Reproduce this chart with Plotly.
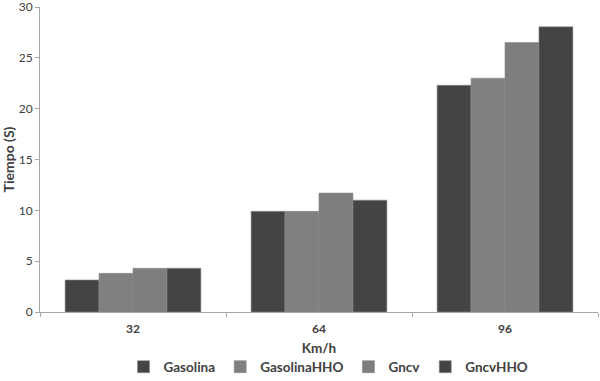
import plotly.graph_objects as go

categories = ["32", "64", "96"]
series_names = ["Gasolina", "GasolinaHHO", "Gncv", "GncvHHO"]
gasolina = [3.15, 9.9, 22.3]
gasolina_hho = [3.8, 9.9, 23.0]
gncv = [4.3, 11.7, 26.5]
gncv_hho = [4.3, 11.0, 28.05]
y_ticks = [0, 5, 10, 15, 20, 25, 30]

values = [gasolina, gasolina_hho, gncv, gncv_hho]
colors = ["#444444", "#808080", "#7e7e7e", "#444444"]

fig = go.Figure()
for name, vals, col in zip(series_names, values, colors):
    fig.add_trace(go.Bar(
        x=categories, y=vals, name=name,
        marker=dict(color=col, line=dict(color="#8a8a8a", width=0.6)),
    ))

fig.update_layout(
    width=600, height=381,
    margin=dict(l=40, r=2, t=7, b=69, autoexpand=False),
    paper_bgcolor="white", plot_bgcolor="white",
    barmode="group", bargap=0.27, bargroupgap=0,
    font=dict(family="Lato, Open Sans, sans-serif", size=12, color="#404040", weight="bold"),
    showlegend=True,
    legend=dict(orientation="h", x=0.517, xanchor="center", y=-0.18, yanchor="middle",
                font=dict(size=13.5), itemwidth=30, traceorder="normal"),
    xaxis=dict(
        title=dict(text="Km/h", font=dict(size=13.5), standoff=8),
        showline=True, linecolor="#a6a6a6", linewidth=1,
        ticks="outside", tickson="boundaries", ticklen=4, tickcolor="#a6a6a6",
        showgrid=False, automargin=False, ticklabelstandoff=6,
        tickfont=dict(size=12),
    ),
    yaxis=dict(
        title=dict(text="Tiempo (S)", font=dict(size=14), standoff=4),
        range=[0, 30.0001], tickvals=y_ticks, ticktext=[str(v) for v in y_ticks],
        showline=True, linecolor="#a6a6a6", linewidth=1,
        ticks="outside", ticklen=4, tickcolor="#a6a6a6",
        showgrid=False, zeroline=False, automargin=False,
        ticklabeloverflow="allow",
        tickfont=dict(size=12, weight="normal"),
    ),
)

fig.write_html("out.html", config={"displayModeBar": False},
               post_script="document.body.style.margin='0';")
